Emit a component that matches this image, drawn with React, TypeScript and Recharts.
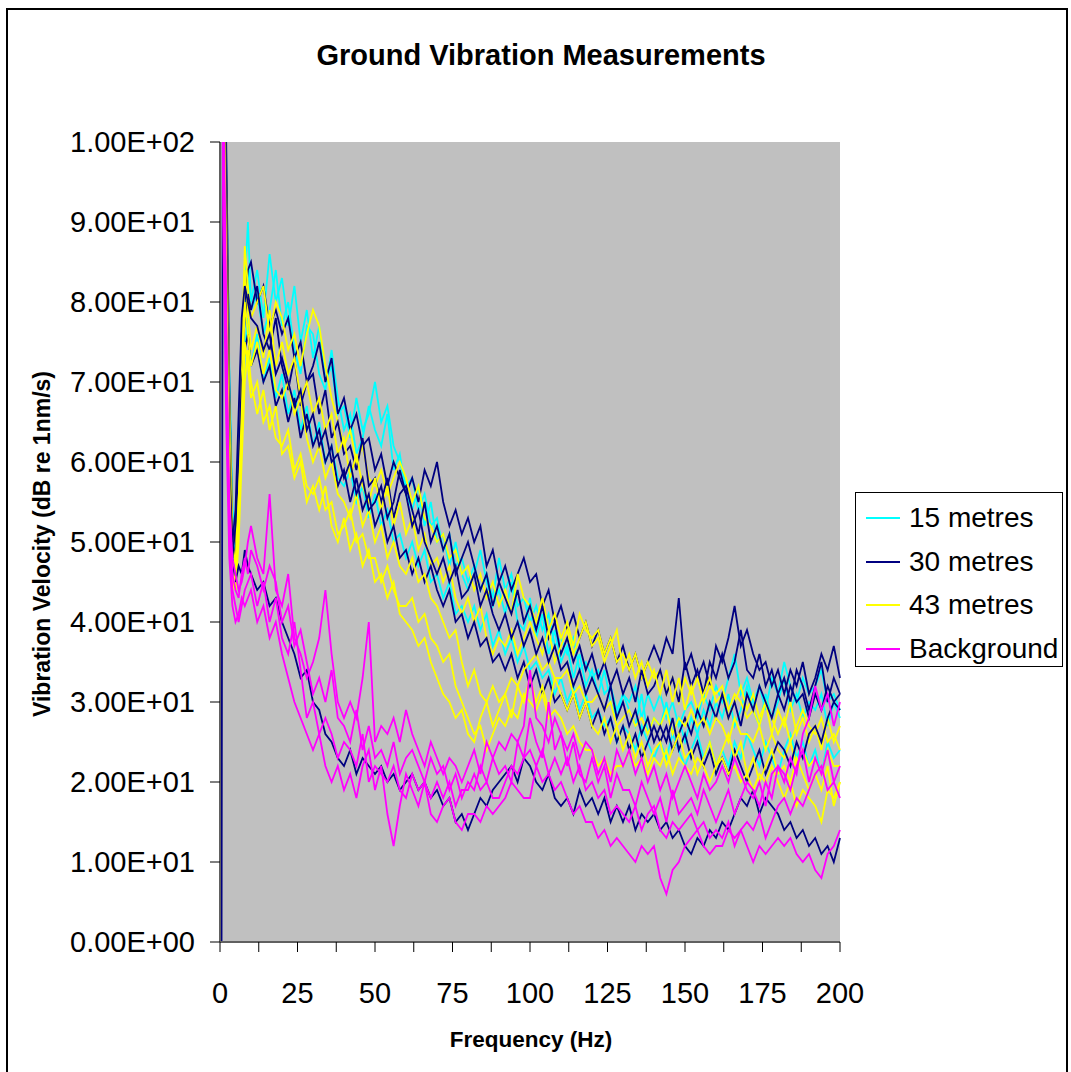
import { LineChart, Line, XAxis, YAxis, CartesianGrid } from "recharts"

// frequency (Hz) of each sample
const freqs = [
  0.5, 1, 2, 3, 4, 5, 6, 7, 8, 9, 10,
  12, 14, 16, 18, 20, 22, 24, 26, 28, 30,
  32, 34, 36, 38, 40, 42, 44, 46, 48, 50,
  52, 54, 56, 58, 60, 62, 64, 66, 68, 70,
  72, 74, 76, 78, 80, 82, 84, 86, 88, 90,
  92, 94, 96, 98, 100, 102, 104, 106, 108, 110,
  112, 114, 116, 118, 120, 122, 124, 126, 128, 130,
  132, 134, 136, 138, 140, 142, 144, 146, 148, 150,
  152, 154, 156, 158, 160, 162, 164, 166, 168, 170,
  172, 174, 176, 178, 180, 182, 184, 186, 188, 190,
  192, 194, 196, 198, 200,
]

// 15 metres
const m15a = [
  130, 125, 98, 72, 55, 48, 58, 70, 82, 90, 80,
  84, 78, 86, 80, 83, 77, 82, 75, 79, 73,
  77, 70, 72, 66, 67, 63, 68, 64, 66, 70,
  65, 67, 62, 60, 57, 58, 54, 56, 52, 53,
  49, 51, 47, 48, 45, 47, 44, 46, 43, 48,
  44, 46, 42, 43, 40, 42, 39, 41, 37, 38,
  36, 38, 34, 35, 33, 34, 31, 32, 29, 31,
  30, 32, 28, 31, 29, 31, 28, 30, 27, 29,
  30, 28, 31, 29, 32, 30, 33, 36, 31, 33,
  30, 32, 29, 33, 31, 35, 32, 30, 33, 31,
  32, 34, 30, 31, 29,
]
const m15b = [
  130, 120, 92, 65, 50, 46, 52, 62, 74, 78, 72,
  76, 70, 73, 68, 71, 66, 69, 64, 67, 62,
  65, 60, 62, 58, 57, 59, 55, 57, 53, 56,
  52, 54, 50, 51, 48, 50, 47, 49, 45, 46,
  43, 45, 41, 42, 40, 42, 39, 41, 37, 39,
  36, 38, 35, 37, 34, 35, 33, 34, 31, 33,
  30, 32, 29, 31, 28, 29, 27, 28, 25, 27,
  26, 24, 27, 25, 23, 25, 23, 26, 24, 22,
  24, 26, 23, 25, 22, 24, 22, 25, 23, 26,
  24, 22, 25, 23, 21, 24, 26, 23, 25, 22,
  24, 21, 25, 23, 24,
]
const m15c = [
  130, 122, 94, 68, 52, 47, 56, 68, 78, 84, 79,
  81, 76, 79, 84, 77, 80, 74, 71, 77, 76,
  71, 69, 74, 68, 64, 66, 61, 63, 67, 64,
  62, 66, 59, 61, 56, 54, 57, 52, 55, 50,
  51, 47, 50, 46, 44, 46, 49, 45, 42, 44,
  41, 45, 40, 39, 43, 38, 41, 36, 39, 35,
  37, 33, 36, 32, 34, 31, 34, 30, 28, 31,
  29, 27, 31, 26, 28, 27, 30, 26, 28, 25,
  28, 26, 29, 27, 30, 28, 31, 27, 29, 32,
  29, 27, 31, 28, 30, 33, 29, 31, 28, 30,
  29, 31, 27, 30, 28,
]

// 30 metres
const m30a = [
  130, 128, 100, 70, 52, 50, 62, 76, 80, 84, 85,
  80, 82, 77, 79, 76, 78, 73, 75, 70, 72,
  75, 70, 73, 66, 68, 64, 66, 62, 63, 59,
  61, 57, 60, 58, 56, 58, 55, 59, 57, 60,
  55, 52, 54, 51, 53, 50, 52, 47, 49, 45,
  47, 44, 46, 48, 45, 46, 42, 44, 40, 42,
  39, 41, 38, 40, 37, 39, 36, 38, 35, 37,
  34, 36, 33, 35, 37, 35, 38, 36, 43, 34,
  36, 33, 35, 32, 37, 35, 38, 42, 37, 39,
  36, 34, 35, 32, 34, 31, 34, 32, 35, 31,
  33, 36, 34, 37, 33,
]
const m30b = [
  0, 130, 95, 62, 48, 52, 60, 70, 74, 76, 72,
  74, 70, 72, 67, 69, 65, 68, 63, 66, 62,
  64, 60, 62, 57, 59, 55, 58, 54, 56, 52,
  54, 50, 52, 48, 49, 46, 48, 45, 47, 44,
  42, 44, 40, 41, 38, 40, 37, 38, 35, 36,
  34, 36, 33, 35, 32, 34, 31, 33, 30, 31,
  29, 31, 28, 30, 27, 29, 26, 28, 25, 27,
  24, 26, 23, 25, 27, 25, 27, 24, 26, 28,
  26, 29, 27, 30, 28, 31, 28, 30, 27, 31,
  29, 32, 30, 28, 31, 29, 32, 30, 31, 28,
  31, 29, 32, 30, 31,
]
const m30c = [
  130, 120, 85, 60, 48, 45, 47, 46, 49, 47, 46,
  44, 45, 42, 43, 40, 38, 36, 33, 34, 30,
  29, 26, 25, 23, 22, 24, 21, 23, 22, 21,
  22, 20, 21, 19, 20, 21, 19, 20, 18, 19,
  17, 18, 15, 16, 14, 16, 18, 17, 19, 20,
  21, 22, 20, 23, 22, 20, 19, 21, 18, 17,
  18, 16, 19, 17, 18, 16, 18, 15, 17, 15,
  17, 14, 16, 15, 16, 14, 15, 13, 14, 12,
  11, 13, 12, 14, 13, 15, 14, 16, 18, 17,
  19, 16, 18, 17, 16, 14, 15, 13, 14, 12,
  13, 11, 12, 10, 13,
]
const m30d = [
  130, 125, 90, 58, 50, 54, 66, 78, 82, 80, 78,
  77, 74, 76, 71, 73, 70, 67, 69, 64, 66,
  62, 64, 60, 61, 58, 60, 56, 58, 54, 55,
  57, 53, 55, 59, 56, 52, 54, 50, 48, 46,
  48, 45, 47, 43, 44, 46, 42, 44, 41, 39,
  41, 38, 40, 37, 39, 36, 38, 35, 37, 34,
  35, 32, 34, 31, 33, 31, 29, 32, 28, 30,
  27, 29, 26, 28, 25, 27, 25, 28, 24, 26,
  23, 25, 22, 24, 21, 23, 21, 24, 22, 20,
  22, 24, 21, 23, 25, 24, 22, 25, 23, 26,
  27, 25, 28, 30, 29,
]
const m30e = [
  130, 126, 96, 66, 50, 48, 58, 72, 78, 81, 79,
  82, 76, 74, 78, 72, 69, 73, 67, 70, 71,
  66, 69, 63, 65, 61, 62, 59, 63, 57, 58,
  55, 58, 53, 56, 57, 54, 51, 55, 50, 52,
  49, 51, 46, 48, 50, 47, 44, 46, 42, 45,
  43, 41, 44, 40, 42, 39, 42, 38, 40, 36,
  38, 35, 37, 34, 36, 33, 35, 32, 34, 31,
  33, 30, 34, 31, 32, 34, 31, 33, 30, 35,
  32, 34, 31, 35, 33, 36, 33, 35, 39, 34,
  33, 36, 32, 34, 31, 33, 30, 34, 32, 29,
  32, 35, 30, 33, 31,
]

// 43 metres
const m43a = [
  130, 122, 96, 68, 52, 50, 60, 72, 87, 82, 78,
  80, 82, 76, 80, 78, 74, 76, 72, 76, 79,
  77, 72, 68, 65, 62, 64, 60, 62, 58, 57,
  59, 56, 58, 60, 58, 55, 57, 53, 52, 50,
  51, 48, 49, 46, 47, 44, 46, 43, 45, 42,
  44, 41, 46, 43, 42, 40, 43, 39, 41, 38,
  40, 37, 41, 39, 38, 39, 36, 38, 35, 36,
  34, 36, 33, 35, 33, 34, 31, 33, 30, 33,
  31, 33, 30, 32, 31, 32, 29, 31, 30, 28,
  29, 27, 30, 28, 26, 28, 25, 27, 29, 27,
  26, 28, 25, 26, 24,
]
const m43b = [
  130, 118, 90, 62, 46, 44, 55, 66, 80, 76, 72,
  75, 71, 74, 69, 68, 70, 66, 68, 63, 60,
  62, 58, 60, 56, 55, 53, 56, 52, 54, 50,
  52, 48, 50, 47, 46, 48, 45, 46, 43, 42,
  40, 38, 39, 35, 32, 34, 31, 30, 32, 30,
  31, 33, 32, 34, 35, 36, 34, 35, 33, 33,
  34, 31, 32, 30, 30, 31, 29, 30, 27, 28,
  29, 27, 28, 26, 28, 27, 29, 26, 28, 27,
  29, 27, 28, 26, 28, 27, 25, 28, 26, 26,
  25, 27, 24, 26, 24, 23, 25, 22, 24, 22,
  23, 21, 24, 22, 22,
]
const m43c = [
  130, 115, 85, 58, 44, 46, 52, 62, 75, 72, 68,
  70, 65, 67, 63, 62, 64, 59, 61, 57, 56,
  58, 54, 55, 51, 52, 54, 50, 51, 48, 48,
  45, 47, 44, 42, 42, 43, 40, 41, 38, 37,
  35, 36, 32, 30, 28, 26, 27, 24, 26, 28,
  27, 29, 28, 31, 30, 29, 31, 28, 29, 28,
  26, 27, 25, 24, 24, 22, 23, 21, 22, 22,
  24, 22, 23, 21, 23, 22, 24, 21, 23, 22,
  21, 23, 22, 20, 22, 23, 21, 22, 20, 21,
  19, 21, 20, 22, 20, 18, 20, 17, 19, 18,
  17, 15, 19, 18, 20,
]
const m43d = [
  130, 120, 93, 66, 50, 47, 58, 70, 84, 79, 74,
  77, 73, 79, 72, 75, 71, 73, 68, 70, 66,
  68, 64, 66, 61, 63, 58, 61, 57, 55, 58,
  54, 57, 52, 55, 51, 53, 49, 51, 47, 48,
  45, 47, 43, 41, 43, 40, 42, 38, 36, 38,
  37, 39, 36, 38, 40, 38, 36, 39, 35, 37,
  39, 36, 38, 40, 37, 38, 35, 37, 39, 34,
  36, 33, 35, 32, 34, 31, 34, 30, 33, 29,
  32, 29, 31, 33, 30, 31, 28, 30, 32, 29,
  31, 28, 30, 26, 29, 27, 30, 26, 28, 25,
  27, 24, 28, 25, 27,
]
const m43e = [
  130, 112, 82, 55, 45, 44, 50, 60, 70, 74, 70,
  66, 69, 64, 67, 61, 62, 58, 60, 55, 57,
  54, 57, 52, 50, 53, 49, 51, 47, 49, 45,
  46, 43, 45, 41, 40, 39, 37, 38, 35, 33,
  31, 30, 28, 29, 26, 25, 28, 30, 27, 29,
  31, 28, 32, 30, 33, 30, 32, 29, 33, 31,
  29, 31, 28, 30, 27, 26, 28, 25, 27, 24,
  26, 23, 25, 22, 24, 25, 22, 24, 26, 23,
  24, 21, 23, 25, 22, 24, 26, 23, 25, 21,
  23, 20, 22, 24, 21, 22, 20, 23, 21, 19,
  21, 19, 22, 17, 20,
]

// Background
const bgA = [
  130, 100, 72, 55, 48, 46, 44, 45, 47, 50, 52,
  48, 46, 56, 44, 42, 46, 38, 36, 33, 35,
  38, 44, 36, 30, 28, 30, 28, 33, 40, 25,
  27, 26, 28, 25, 29, 26, 24, 22, 25, 23,
  21, 23, 22, 20, 22, 24, 21, 25, 23, 25,
  24, 26, 25, 27, 34, 28, 27, 25, 28, 26,
  24, 26, 23, 25, 24, 21, 23, 20, 24, 22,
  24, 21, 23, 20, 22, 19, 21, 18, 20, 22,
  20, 18, 21, 19, 20, 22, 20, 23, 21, 19,
  18, 20, 17, 21, 22, 20, 23, 21, 26, 28,
  32, 29, 31, 27, 30,
]
const bgB = [
  130, 110, 80, 50, 44, 42, 40, 42, 44, 45, 46,
  42, 45, 40, 43, 38, 36, 40, 34, 28, 30,
  26, 28, 26, 23, 25, 24, 22, 26, 20, 22,
  21, 20, 22, 19, 18, 21, 19, 20, 18, 20,
  18, 20, 17, 19, 19, 21, 19, 20, 18, 18,
  20, 22, 21, 23, 24, 22, 24, 21, 23, 21,
  23, 20, 22, 19, 20, 18, 19, 16, 17, 16,
  15, 17, 14, 16, 17, 14, 13, 15, 14, 15,
  16, 14, 15, 13, 14, 13, 15, 12, 14, 15,
  14, 16, 13, 15, 17, 18, 16, 18, 17, 19,
  21, 22, 19, 20, 18,
]
const bgC = [
  130, 90, 65, 48, 42, 40, 41, 43, 42, 43, 44,
  40, 42, 38, 40, 36, 33, 30, 28, 26, 24,
  26, 22, 20, 22, 19, 21, 18, 22, 24, 19,
  22, 16, 12, 17, 21, 19, 17, 20, 16, 15,
  17, 18, 15, 14, 16, 16, 15, 17, 16, 17,
  18, 20, 19, 18, 18, 22, 20, 21, 19, 20,
  18, 16, 17, 15, 15, 13, 14, 12, 13, 12,
  11, 10, 12, 11, 12, 8, 6, 9, 10, 12,
  13, 14, 12, 11, 12, 12, 14, 13, 14, 12,
  10, 12, 11, 12, 13, 12, 13, 11, 10, 11,
  9, 8, 11, 12, 14,
]
const bgD = [
  130, 105, 76, 52, 46, 44, 43, 46, 48, 46, 49,
  47, 44, 47, 45, 40, 42, 37, 39, 35, 31,
  33, 30, 34, 28, 27, 25, 29, 24, 27, 23,
  24, 22, 25, 21, 23, 24, 22, 20, 23, 21,
  22, 19, 21, 18, 20, 19, 22, 20, 23, 21,
  22, 20, 25, 23, 28, 25, 23, 30, 24, 26,
  22, 25, 21, 20, 23, 20, 22, 18, 21, 19,
  19, 17, 20, 18, 16, 18, 15, 19, 16, 17,
  18, 16, 19, 17, 15, 17, 19, 16, 18, 20,
  19, 17, 20, 18, 22, 21, 19, 22, 24, 20,
  23, 21, 24, 20, 22,
]

const yTicks = [0, 10, 20, 30, 40, 50, 60, 70, 80, 90, 100]
const xTicks = [0, 12.5, 25, 37.5, 50, 62.5, 75, 87.5, 100, 112.5, 125, 137.5, 150, 162.5, 175, 187.5, 200]

const legendItems = [
  { name: "15 metres", color: "#00FFFF" },
  { name: "30 metres", color: "#000080" },
  { name: "43 metres", color: "#FFFF00" },
  { name: "Background", color: "#FF00FF" },
]

const lines = [
  { key: "m15a", values: m15a, color: "#00FFFF" },
  { key: "m15c", values: m15c, color: "#00FFFF" },
  { key: "m15b", values: m15b, color: "#00FFFF" },
  { key: "m30a", values: m30a, color: "#000080" },
  { key: "m43a", values: m43a, color: "#FFFF00" },
  { key: "m30e", values: m30e, color: "#000080" },
  { key: "m43d", values: m43d, color: "#FFFF00" },
  { key: "m30b", values: m30b, color: "#000080" },
  { key: "m43b", values: m43b, color: "#FFFF00" },
  { key: "m30d", values: m30d, color: "#000080" },
  { key: "m43e", values: m43e, color: "#FFFF00" },
  { key: "m30c", values: m30c, color: "#000080" },
  { key: "m43c", values: m43c, color: "#FFFF00" },
  { key: "bgA", values: bgA, color: "#FF00FF" },
  { key: "bgD", values: bgD, color: "#FF00FF" },
  { key: "bgB", values: bgB, color: "#FF00FF" },
  { key: "bgC", values: bgC, color: "#FF00FF" },
]

const data = freqs.map((f, i) => {
  const row: Record<string, number> = { f }
  lines.forEach((l) => {
    row[l.key] = l.values[i]
  })
  return row
})

const font = "'Liberation Sans', Arial, sans-serif"

function sci(v: number) {
  const [m, e] = v.toExponential(2).split("e")
  return `${m}E${e[0]}${e.slice(1).padStart(2, "0")}`
}

export default function App() {
  return (
    <div
      style={{
        position: "absolute",
        left: 0,
        top: 0,
        width: 1071,
        height: 1072,
        overflow: "hidden",
        background: "#fff",
        fontFamily: font,
      }}
    >
      <div
        style={{
          position: "absolute",
          left: 6,
          top: 8,
          width: 1062,
          height: 1100,
          border: "2px solid #000",
          boxSizing: "border-box",
        }}
      />
      <div
        style={{
          position: "absolute",
          left: 0,
          width: 1082,
          top: 41,
          textAlign: "center",
          fontSize: 29,
          lineHeight: "29px",
          fontWeight: "bold",
        }}
      >
        Ground Vibration Measurements
      </div>
      <div
        style={{
          position: "absolute",
          left: 42,
          top: 544,
          transform: "translate(-50%, -50%) rotate(-90deg)",
          whiteSpace: "nowrap",
          fontSize: 23,
          fontWeight: "bold",
        }}
      >
        Vibration Velocity (dB re 1nm/s)
      </div>
      <div
        style={{
          position: "absolute",
          left: 531,
          top: 1040,
          transform: "translate(-50%, -50%)",
          whiteSpace: "nowrap",
          fontSize: 22.5,
          fontWeight: "bold",
        }}
      >
        Frequency (Hz)
      </div>

      <LineChart
        width={1071}
        height={1072}
        data={data}
        margin={{ top: 142, right: 231, bottom: 70, left: 0 }}
        style={{ position: "absolute", left: 0, top: 0 }}
      >
        <CartesianGrid horizontal={false} vertical={false} fill="#C0C0C0" />
        <XAxis
          dataKey="f"
          type="number"
          domain={[0, 200]}
          ticks={xTicks}
          interval={0}
          height={60}
          tickSize={10}
          tickMargin={30}
          tickFormatter={(v: number) => (v % 25 === 0 ? String(v) : "")}
          tick={{ fill: "#000", fontSize: 29, fontFamily: font }}
          tickLine={{ stroke: "#000" }}
          axisLine={{ stroke: "#606060", strokeWidth: 2 }}
        />
        <XAxis
          xAxisId="top"
          orientation="top"
          type="number"
          domain={[0, 200]}
          height={0}
          tick={false}
          tickLine={false}
          axisLine={{ stroke: "#808080", strokeWidth: 2 }}
        />
        <YAxis
          type="number"
          domain={[0, 100]}
          ticks={yTicks}
          interval={0}
          allowDataOverflow
          width={220}
          tickSize={10}
          tickMargin={15}
          tickFormatter={sci}
          tick={{ fill: "#000", fontSize: 29, fontFamily: font }}
          tickLine={{ stroke: "#000" }}
          axisLine={{ stroke: "#606060", strokeWidth: 2 }}
        />
        <YAxis
          yAxisId="right"
          orientation="right"
          type="number"
          domain={[0, 100]}
          width={0}
          tick={false}
          tickLine={false}
          axisLine={{ stroke: "#808080", strokeWidth: 2 }}
        />
        {lines.map((l) => (
          <Line
            key={l.key}
            dataKey={l.key}
            type="linear"
            stroke={l.color}
            strokeWidth={1.8}
            dot={false}
            activeDot={false}
            isAnimationActive={false}
          />
        ))}
      </LineChart>

      <div
        style={{
          position: "absolute",
          left: 855,
          top: 492,
          width: 208,
          height: 175,
          border: "1px solid #000",
          boxSizing: "border-box",
          background: "#fff",
        }}
      >
        {legendItems.map((item, i) => (
          <div
            key={item.name}
            style={{
              position: "absolute",
              left: 10,
              top: 25 + i * 43.5,
              transform: "translateY(-50%)",
              display: "flex",
              alignItems: "center",
              whiteSpace: "nowrap",
            }}
          >
            <span style={{ display: "inline-block", width: 34, height: 2, background: item.color }} />
            <span style={{ marginLeft: 9, fontSize: 28, lineHeight: "32px" }}>{item.name}</span>
          </div>
        ))}
      </div>
    </div>
  )
}
